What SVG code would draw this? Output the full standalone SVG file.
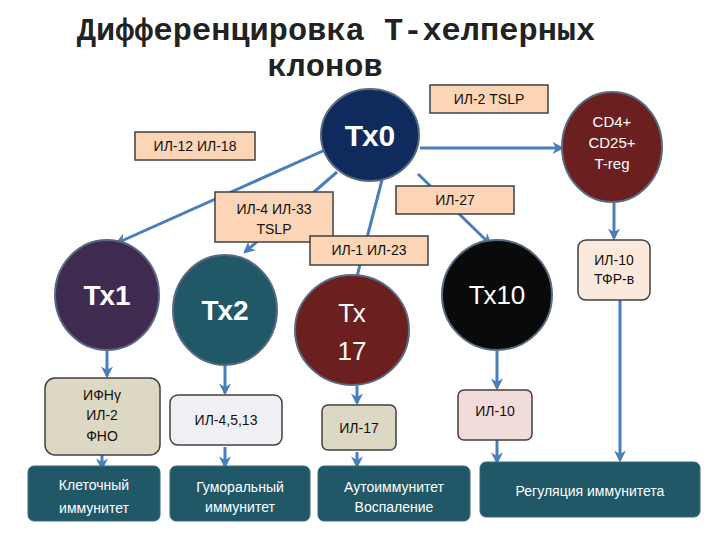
<svg xmlns="http://www.w3.org/2000/svg" width="720" height="540" viewBox="0 0 720 540">
<defs>
<marker id="ah" viewBox="0 0 10 10" refX="8" refY="5" markerWidth="4" markerHeight="4" orient="auto"><path d="M0,0 L10,5 L0,10 L3,5 z" fill="#4a7ebb"/></marker>
<style>
text{font-family:"Liberation Sans",Arial,sans-serif;text-anchor:middle}
.title{font-family:"Liberation Mono","Courier New",monospace;font-size:32px;font-weight:bold;fill:#222}
.c{stroke:#5a6a80;stroke-width:2}
.ct{fill:#fff;font-weight:bold}
.cn2{fill:#fff;font-weight:normal}
.lb{fill:#fbd5b5;stroke:#404040;stroke-width:1.5}
.lt{fill:#111;font-size:14px}
.rb{stroke:#404040;stroke-width:1.5}
.bb{fill:#215868;stroke:#3a6a7a;stroke-width:1}
.bt{fill:#fff;font-size:14px}
.cn{stroke:#4a7ebb;stroke-width:3;fill:none;marker-end:url(#ah)}
</style>
</defs>
<rect width="720" height="540" fill="#fff"/>
<text class="title" x="336" y="40">Дифференцировка Т-хелперных</text>
<text class="title" x="325" y="76">клонов</text>
<g id="connectors">
<line class="cn" x1="325" y1="150" x2="117" y2="243"/>
<line class="cn" x1="337" y1="172" x2="245" y2="252"/>
<line class="cn" x1="382" y1="180" x2="355" y2="284"/>
<line class="cn" x1="418" y1="174" x2="490" y2="244"/>
<line class="cn" x1="420" y1="148" x2="562" y2="148"/>
<line class="cn" x1="614" y1="202" x2="614" y2="238"/>
<line class="cn" x1="107" y1="347" x2="107" y2="376"/>
<line class="cn" x1="102" y1="450" x2="102" y2="468"/>
<line class="cn" x1="225" y1="362" x2="225" y2="393"/>
<line class="cn" x1="225" y1="447" x2="225" y2="466"/>
<line class="cn" x1="357" y1="386" x2="357" y2="403"/>
<line class="cn" x1="357" y1="452" x2="357" y2="466"/>
<line class="cn" x1="497" y1="350" x2="497" y2="388"/>
<line class="cn" x1="497" y1="440" x2="497" y2="462"/>
<line class="cn" x1="620" y1="300" x2="620" y2="460"/>
</g>
<g id="il2"><rect class="lb" x="430" y="85" width="118" height="28"/><text class="lt" x="489" y="104">ИЛ-2 TSLP</text></g>
<g id="il12"><rect class="lb" x="135" y="132" width="120" height="28"/><text class="lt" x="195" y="151">ИЛ-12  ИЛ-18</text></g>
<g id="il4"><rect class="lb" x="215" y="192" width="118" height="50"/><text class="lt" x="274" y="214">ИЛ-4 ИЛ-33</text><text class="lt" x="274" y="234">TSLP</text></g>
<g id="il1"><rect class="lb" x="310" y="236" width="118" height="29"/><text class="lt" x="369" y="255">ИЛ-1 ИЛ-23</text></g>
<g id="il27"><rect class="lb" x="396" y="186" width="118" height="28"/><text class="lt" x="455" y="205">ИЛ-27</text></g>
<g id="tx0"><ellipse class="c" cx="370" cy="135" rx="49" ry="46" fill="#0f2a5c"/><text class="ct" x="370" y="146" font-size="30">Тх0</text></g>
<g id="treg"><ellipse class="c" cx="612" cy="147" rx="50" ry="55" fill="#6b1f1f"/><text class="cn2" x="612" y="127" font-size="15">CD4+</text><text class="cn2" x="612" y="148" font-size="15">CD25+</text><text class="cn2" x="612" y="169" font-size="15">T-reg</text></g>
<g id="tgf"><rect class="rb" x="578" y="240" width="72" height="60" rx="8" fill="#fbe9dc"/><text class="lt" x="614" y="265" font-size="13">ИЛ-10</text><text class="lt" x="614" y="284" font-size="13">ТФР-в</text></g>
<g id="tx1"><ellipse class="c" cx="107" cy="295" rx="52" ry="55" fill="#3f2a50"/><text class="ct" x="107" y="305" font-size="28">Тх1</text></g>
<g id="tx2"><ellipse class="c" cx="225" cy="310" rx="52" ry="55" fill="#215868"/><text class="ct" x="225" y="320" font-size="28">Тх2</text></g>
<g id="tx17"><ellipse class="c" cx="352" cy="330" rx="57" ry="55" fill="#6b1f1f"/><text class="cn2" x="352" y="322" font-size="26">Тх</text><text class="cn2" x="352" y="360" font-size="26">17</text></g>
<g id="tx10"><ellipse class="c" cx="497" cy="295" rx="55" ry="55" fill="#0a0a0a"/><text class="cn2" x="497" y="304" font-size="26">Тх10</text></g>
<g id="ifn"><rect class="rb" x="45" y="378" width="115" height="77" rx="10" fill="#ddd8c4"/><text class="lt" x="102" y="400">ИФНγ</text><text class="lt" x="102" y="420">ИЛ-2</text><text class="lt" x="102" y="441">ФНО</text></g>
<g id="il45"><rect class="rb" x="170" y="395" width="112" height="50" rx="8" fill="#f0f0f4"/><text class="lt" x="226" y="425">ИЛ-4,5,13</text></g>
<g id="il17"><rect class="rb" x="322" y="405" width="74" height="45" rx="6" fill="#ddd8c4"/><text class="lt" x="359" y="433">ИЛ-17</text></g>
<g id="il10"><rect class="rb" x="458" y="390" width="74" height="50" rx="6" fill="#f2dcdb"/><text class="lt" x="495" y="416">ИЛ-10</text></g>
<g id="b1"><rect class="bb" x="28" y="466" width="132" height="55" rx="6"/><text class="bt" x="94" y="490">Клеточный</text><text class="bt" x="94" y="513">иммунитет</text></g>
<g id="b2"><rect class="bb" x="170" y="466" width="140" height="55" rx="6"/><text class="bt" x="240" y="492" font-size="13">Гуморальный</text><text class="bt" x="240" y="512" font-size="13">иммунитет</text></g>
<g id="b3"><rect class="bb" x="318" y="466" width="152" height="55" rx="6"/><text class="bt" x="394" y="492" font-size="13">Аутоиммунитет</text><text class="bt" x="394" y="512" font-size="13">Воспаление</text></g>
<g id="b4"><rect class="bb" x="480" y="462" width="220" height="55" rx="6"/><text class="bt" x="590" y="496">Регуляция иммунитета</text></g>
</svg>
